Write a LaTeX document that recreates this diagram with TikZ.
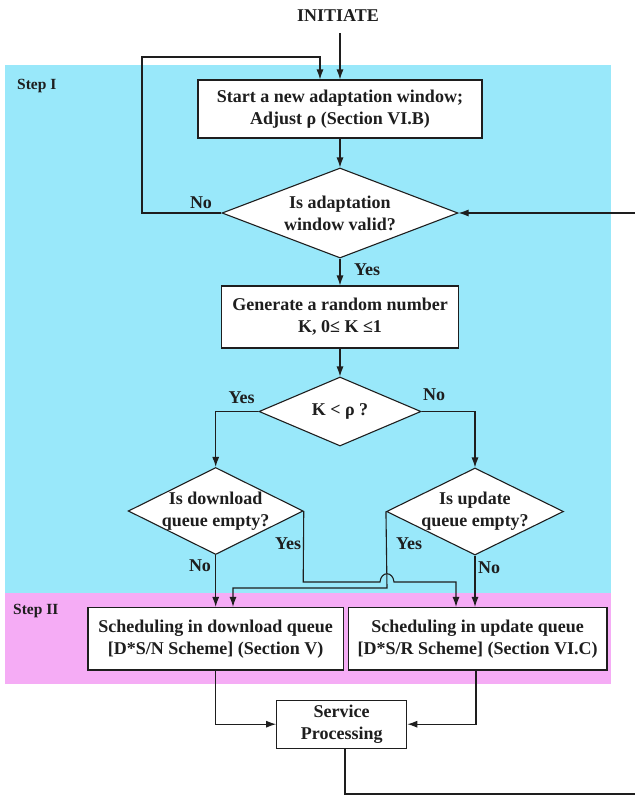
\documentclass[tikz,border=0pt]{standalone}
\usepackage{fontspec}
\setmainfont{Liberation Serif}
\usetikzlibrary{shapes.geometric,arrows.meta,calc}
\definecolor{cyanbg}{RGB}{153,232,250}
\definecolor{pinkbg}{RGB}{245,172,245}
\definecolor{inkc}{RGB}{30,30,30}
\begin{document}
\begin{tikzpicture}[x=1pt,y=-1pt,
  lbl/.style={font=\fontsize{18}{21}\selectfont\bfseries, inner sep=0, text=inkc},
  boxn/.style={draw=inkc, fill=white, line width=1.1pt, align=center, inner sep=0,
    font=\fontsize{18}{22}\selectfont\bfseries, text=inkc},
  dia/.style={draw=inkc, fill=white, diamond, line width=1.1pt, inner sep=0},
  dtext/.style={align=center, inner sep=0, font=\fontsize{18}{22}\selectfont\bfseries, text=inkc},
  arr/.style={draw=inkc, line width=1.1pt, -{Latex[length=10pt,width=7pt]}},
  ln/.style={draw=inkc, line width=1.1pt},
  steplbl/.style={font=\fontsize{15.5}{18}\selectfont\bfseries, anchor=west, inner sep=0, text=inkc}]
\useasboundingbox (0,0) rectangle (635,796);
% backgrounds
\fill[cyanbg] (5,65) rectangle (611,593);
\fill[pinkbg] (5,593) rectangle (611,684);
\node[steplbl] (s1) at (17,86) {Step I};
\node[steplbl] (s2) at (13,611) {Step II};

% nodes
\node[lbl] (init) at (338,16) {INITIATE};
\node[boxn, minimum width=284pt, minimum height=58pt] (b1) at (340,109)
  {Start a new adaptation window;\\Adjust ρ (Section VI.B)};
\node[dia, minimum width=236pt, minimum height=90pt] (d1) at (340,213) {};
\node[dtext] (t1) at (d1) {Is adaptation\\window valid?};
\node[boxn, minimum width=237pt, minimum height=62pt] (b2) at (340,317)
  {Generate a random number\\K, 0≤ K ≤1};
\node[dia, minimum width=162pt, minimum height=69pt] (d2) at (340,411.5) {};
\node[dtext] (t2) at (d2) {K < ρ ?};
\node[dia, minimum width=175pt, minimum height=87pt] (d3) at (215.7,511) {};
\node[dtext] (t3) at (d3) {Is download\\queue empty?};
\node[dia, minimum width=177pt, minimum height=87pt] (d4) at (475,511.5) {};
\node[dtext] (t4) at (d4) {Is update\\queue empty?};
\node[boxn, minimum width=255.5pt, minimum height=62.5pt] (b3) at (215.7,638.7)
  {Scheduling in download queue\\{}[D*S/N Scheme] (Section V)};
\node[boxn, minimum width=258.7pt, minimum height=62.5pt] (b4) at (477.6,638.7)
  {Scheduling in update queue\\{}[D*S/R Scheme] (Section VI.C)};
\node[boxn, minimum width=130pt, minimum height=48.3pt] (svc) at (341.7,724.2)
  {Service\\Processing};

% labels
\node[lbl] (no1) at (201,203) {No};
\node[lbl] (yes1) at (367,270) {Yes};
\node[lbl] (yes2) at (241.5,398) {Yes};
\node[lbl] (no2) at (434,395) {No};
\node[lbl] (yes3) at (288,544) {Yes};
\node[lbl] (yes4) at (409,543.5) {Yes};
\node[lbl] (no3) at (200,566) {No};
\node[lbl] (no4) at (489,568) {No};

% coordinates
\coordinate (lp) at (142,57);
\coordinate (rin) at (635,213);
\coordinate (rout) at (635,794);
\coordinate (ib) at (340,33);
\coordinate (j3) at (303.2,582);
\coordinate (j4) at (387,588);

% connectors
\draw[arr] (ib) -- (b1.north);
\draw[arr] (d1.west) -| (lp) -| ($(b1.north)+(-20,0)$);
\draw[arr] (b1.south) -- (d1.north);
\draw[arr] (rin) -- (d1.east);
\draw[arr] (d1.south) -- (b2.north);
\draw[arr] (b2.south) -- (d2.north);
\draw[arr] (d2.west) -| (d3.north);
\draw[arr] (d2.east) -| (d4.north);
\draw[arr] (d3.south) -- (d3.south |- b3.north);
\draw[arr] (d4.south) -- (d4.south |- b4.north);
\draw[arr] (d3.east) -- (j3) -- (380,582) .. controls (381,571) and (393,571) .. (394,582)
  -- (456,582) -- (456,0 |- b4.north);
\draw[arr] (d4.west) -- (j4) -- (233,588) -- (233,0 |- b3.north);
\draw[arr] (b3.south) |- (svc.west);
\draw[arr] (b4.south -| 476,0) |- (svc.east);
\draw[ln] (svc.south -| 345,0) |- (rout);
\end{tikzpicture}
\end{document}
